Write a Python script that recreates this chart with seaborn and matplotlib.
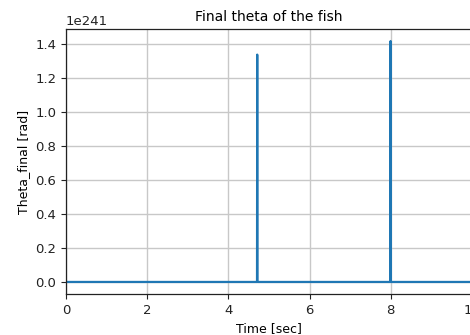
import matplotlib
matplotlib.use("Agg")
import matplotlib.pyplot as plt
import seaborn as sns
import pandas as pd

# Final heading angle of the fish over the simulation time
time_sec = [0.0, 4.70, 4.705, 4.71, 4.715, 7.985, 7.99, 7.995, 8.0, 10.0]
theta_final = [0.0, 0.0, 0.0, 1.34e241, 0.0, 0.0, 0.0, 1.42e241, 0.0, 0.0]

df = pd.DataFrame({"Time [sec]": time_sec, "Theta_final [rad]": theta_final})

plt.rcParams["font.family"] = ["DejaVu Sans"]
plt.rcParams["font.size"] = 9.5

fig = plt.figure(figsize=(4.7, 3.35), dpi=100)
ax = fig.add_axes([66 / 470, 41 / 335, 406 / 470, 265 / 335])

sns.lineplot(data=df, x="Time [sec]", y="Theta_final [rad]", ax=ax,
             color="#1f77b4", linewidth=1.6, sort=False)

ax.set_xlim(0, 10)
ax.set_xticks([0, 2, 4, 6, 8, 10])
ax.grid(True, color="#c8c8c8", linewidth=1.0)
ax.set_title("Final theta of the fish", fontsize=10)
ax.set_xlabel("Time [sec]", fontsize=9)
ax.set_ylabel("Theta_final [rad]", fontsize=9)
ax.tick_params(colors="#222222")
for s in ax.spines.values():
    s.set_color("#222222")
    s.set_linewidth(0.9)

fig.savefig("out.png", dpi=100)
